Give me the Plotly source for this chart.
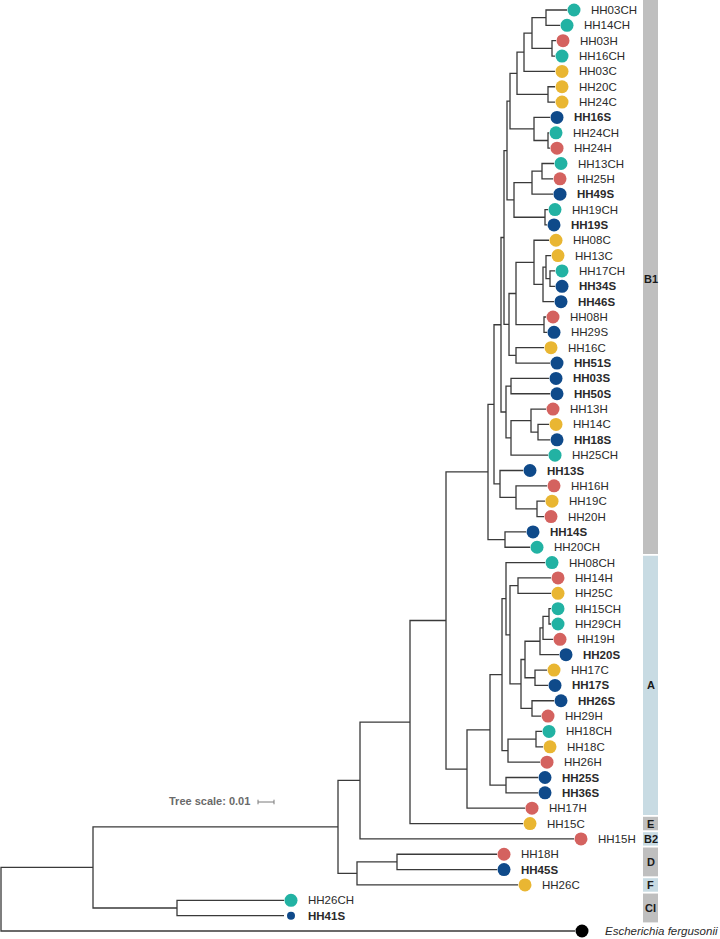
import plotly.graph_objects as go

# ---------------- data ----------------
# Branch lengths in drawing units: 16 units = 0.01 substitutions/site (tree scale bar)
UNITS_PER_SUB = 1600
SCALE_BAR_VALUE = 0.01


def N(length, *kids):
    return {"len": length, "kids": list(kids), "name": None}


def L(name, length):
    return {"len": length, "kids": [], "name": name}


B1_UPPER = N(3,
    N(3,
        N(7,
            N(7,
                N(8, N(14, L("HH03CH", 21), L("HH14CH", 14)),
                     N(20, L("HH03H", 4), L("HH16CH", 3))),
                L("HH03C", 31)),
            N(31, L("HH20C", 7), L("HH24C", 7))),
        N(24, L("HH16S", 16), N(14, L("HH24CH", 1), L("HH24H", 2)))),
    N(7,
        N(18, N(10, L("HH13CH", 12), L("HH25H", 11)), L("HH49S", 21)),
        N(31, L("HH19CH", 3), L("HH19S", 2))))

B1_MID = N(5,
    N(7,
        N(18, L("HH08C", 15),
              N(9, N(3, L("HH13C", 5), N(4, L("HH17CH", 5), L("HH34S", 5))),
                   L("HH46S", 11))),
        N(28, L("HH08H", 2), L("HH29S", 3))),
    N(7, L("HH16C", 28), L("HH51S", 34)))

B1_LOWER = N(5,
    N(5, L("HH03S", 38), L("HH50S", 39)),
    N(5, N(20, L("HH13H", 15), N(7, L("HH14C", 11), L("HH18S", 12))),
         L("HH25CH", 37)))

B1_BOTTOM = N(6, L("HH13S", 23),
              N(16, L("HH16H", 31), N(21, L("HH19C", 8), L("HH20H", 7))))

CLADE_B1 = N(42,
    N(6, N(7, N(3, B1_UPPER, B1_MID), B1_LOWER), B1_BOTTOM),
    N(17, L("HH14S", 21), L("HH20CH", 25)))

A_CORE = N(11,
    N(4,
        N(15, N(3, N(6, L("HH15CH", 2), L("HH29CH", 2)), L("HH19H", 10)),
              L("HH20S", 19)),
        N(10, L("HH17C", 12), L("HH17S", 13))),
    N(11, L("HH26S", 22), L("HH29H", 9)))

CLADE_A = N(21,
    N(23,
        N(12,
            N(4, L("HH08CH", 39),
                 N(4, N(8, L("HH14H", 33), L("HH25C", 33)), A_CORE)),
            N(6, N(28, L("HH18CH", 6), L("HH18C", 7)), L("HH26H", 32))),
        N(16, L("HH25S", 32), L("HH36S", 32))),
    L("HH17H", 58))

CLADE_D_F = N(19, N(40, L("HH18H", 100), L("HH45S", 100)), L("HH26C", 161))
CLADE_CI = N(84, L("HH26CH", 107), L("HH41S", 107))

TREE = N(0,
    N(92,
        N(245,
            N(22,
                N(50, N(36, CLADE_B1, CLADE_A), L("HH15C", 113)),
                L("HH15H", 214)),
            CLADE_D_F),
        CLADE_CI),
    L("Escherichia fergusonii", 574))

BOLD_LABELS = ["HH16S", "HH49S", "HH19S", "HH34S", "HH46S", "HH51S", "HH03S",
               "HH50S", "HH18S", "HH13S", "HH14S", "HH20S", "HH17S", "HH26S",
               "HH25S", "HH36S", "HH45S", "HH41S"]
ITALIC_LABELS = ["Escherichia fergusonii"]
SMALL_MARKERS = ["HH41S"]

SOURCE_COLORS = {"CH": "#22b2a3", "H": "#d4625f", "C": "#e9b632", "S": "#0f4a8a",
                 "ref": "#000000"}

CLADE_NAMES = ["B1", "A", "E", "B2", "D", "F", "CI"]
CLADE_FIRST = ["HH03CH", "HH08CH", "HH15C", "HH15H", "HH18H", "HH26C", "HH26CH"]
CLADE_LAST = ["HH20CH", "HH17H", "HH15C", "HH15H", "HH45S", "HH26C", "HH41S"]
CLADE_COLORS = ["#bfbfbf", "#c8dbe3", "#bfbfbf", "#c8dbe3", "#bfbfbf", "#c8dbe3", "#bfbfbf"]

# ---------------- layout of the tree ----------------
leaves = []


def layout(node, x0):
    node["x"] = x0 + node["len"]
    if not node["kids"]:
        node["y"] = len(leaves)
        leaves.append(node)
    else:
        for k in node["kids"]:
            layout(k, node["x"])
        node["y"] = (node["kids"][0]["y"] + node["kids"][-1]["y"]) / 2


layout(TREE, 0)


def sx(u):
    return u / UNITS_PER_SUB


lx, ly = [], []


def edges(node):
    if node["kids"]:
        first, last = node["kids"][0], node["kids"][-1]
        lx.extend([sx(first["x"]), sx(node["x"]), sx(node["x"]), sx(last["x"]), None])
        ly.extend([first["y"], first["y"], last["y"], last["y"], None])
        for k in node["kids"][1:-1]:
            lx.extend([sx(node["x"]), sx(k["x"]), None])
            ly.extend([k["y"], k["y"], None])
        for k in node["kids"]:
            edges(k)


edges(TREE)

# pixel geometry helpers (figure 720x939, row spacing in px)
ROW_PX = 15.35
TOP_PX = 10.0


def row_of_px(p):
    return (p - TOP_PX) / ROW_PX


def source_of(name):
    if not name.startswith("HH"):
        return "ref"
    for suf in ("CH", "H", "C", "S"):
        if name.endswith(suf):
            return suf


fig = go.Figure()
fig.add_trace(go.Scatter(x=lx, y=ly, mode="lines",
                         line=dict(color="#3a3a3a", width=1.3),
                         hoverinfo="skip"))

DOT_OFF = 7
LABEL_OFF = 15
mx, my, mc, ms = [], [], [], []
annotations = []
for lf in leaves:
    name = lf["name"]
    dx = lf["x"] + DOT_OFF
    mx.append(sx(dx))
    my.append(lf["y"])
    mc.append(SOURCE_COLORS[source_of(name)])
    ms.append(8 if name in SMALL_MARKERS else 13)
    txt = name
    if name in BOLD_LABELS:
        txt = "<b>" + txt + "</b>"
    if name in ITALIC_LABELS:
        txt = "<i>" + txt + "</i>"
    off = LABEL_OFF + (6 if name in ITALIC_LABELS else 0)
    annotations.append(dict(x=sx(dx + off), y=lf["y"], text=txt, showarrow=False,
                            xanchor="left", yanchor="middle",
                            font=dict(family="Liberation Sans, Arial", size=11.5,
                                      color="#2a2a2a")))

fig.add_trace(go.Scatter(x=mx, y=my, mode="markers",
                         marker=dict(color=mc, size=ms, opacity=1, line=dict(width=0)),
                         opacity=1, hoverinfo="skip"))

# clade strip
idx = {lf["name"]: lf["y"] for lf in leaves}
BAR_X0, BAR_X1 = 642, 657
shapes = []
for nm, f, l, c in zip(CLADE_NAMES, CLADE_FIRST, CLADE_LAST, CLADE_COLORS):
    y0 = idx[f] - 0.5 + 0.06
    y1 = idx[l] + 0.5 - 0.06
    if nm == "B1":
        y0 = row_of_px(0)
    shapes.append(dict(type="rect", xref="x", yref="y", x0=sx(BAR_X0), x1=sx(BAR_X1),
                       y0=y0, y1=y1, fillcolor=c, line=dict(width=0), layer="below"))
    annotations.append(dict(x=sx((BAR_X0 + BAR_X1) / 2), y=(idx[f] + idx[l]) / 2,
                            text="<b>" + nm + "</b>", showarrow=False,
                            xanchor="center", yanchor="middle",
                            font=dict(family="Liberation Sans, Arial", size=11,
                                      color="#1a1a1a")))

# tree scale
SB_X0 = 257
SB_Y = row_of_px(802)
sb_len = SCALE_BAR_VALUE * UNITS_PER_SUB
tick = 0.15
fig.add_trace(go.Scatter(
    x=[sx(SB_X0), sx(SB_X0 + sb_len), None, sx(SB_X0), sx(SB_X0), None,
       sx(SB_X0 + sb_len), sx(SB_X0 + sb_len)],
    y=[SB_Y, SB_Y, None, SB_Y - tick, SB_Y + tick, None, SB_Y - tick, SB_Y + tick],
    mode="lines", line=dict(color="#7a7a7a", width=1), hoverinfo="skip"))
annotations.append(dict(x=sx(SB_X0 - 6), y=row_of_px(800.5),
                        text="<b>Tree scale: %g</b>" % SCALE_BAR_VALUE,
                        showarrow=False, xanchor="right", yanchor="middle",
                        font=dict(family="Liberation Sans, Arial", size=11,
                                  color="#6a6a6a")))

fig.update_layout(
    width=720, height=939,
    margin=dict(l=0, r=0, t=0, b=0),
    paper_bgcolor="white", plot_bgcolor="white",
    showlegend=False,
    shapes=shapes, annotations=annotations,
    xaxis=dict(range=[sx(-1), sx(719)], visible=False, fixedrange=True),
    yaxis=dict(range=[row_of_px(939), row_of_px(0)], visible=False, fixedrange=True),
)

fig.write_html("out.html", config={"displayModeBar": False},
               post_script="document.body.style.margin='0px';"
                           "document.body.style.overflow='hidden';")
